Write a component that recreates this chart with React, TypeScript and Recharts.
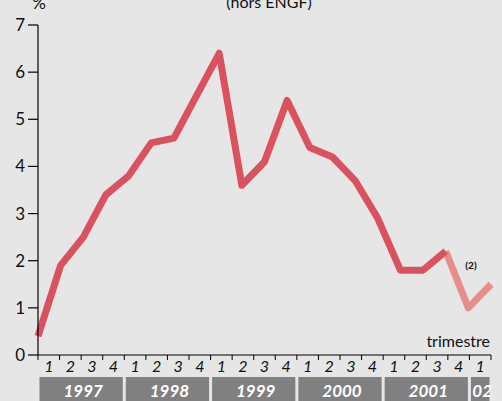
import { LineChart, Line, XAxis, YAxis } from 'recharts';

const YEARS = ['1997', '1998', '1999', '2000', '2001', '02'];
const QUARTERS_PER_YEAR = [4, 4, 4, 4, 4, 1];
const QUARTER_NAMES = ['1', '2', '3', '4'];
const GROWTH = [0.4, 1.9, 2.5, 3.4, 3.8, 4.5, 4.6, 5.5, 6.4, 3.6, 4.1, 5.4, 4.4, 4.2, 3.7, 2.9, 1.8, 1.8, 2.2, 1.0, 1.5];
const ESTIMATE_FROM = 18;
const Y_TICKS = [0, 1, 2, 3, 4, 5, 6, 7];

const FONT = 'Lato, "Open Sans", sans-serif';
const RED = '#d9525d';
const PINK = '#e88e8a';

const data = GROWTH.map((v, i) => ({
  i,
  actual: i <= ESTIMATE_FROM ? v : null,
  estimate: i >= ESTIMATE_FROM ? v : null,
}));

const QUARTER_LABELS = QUARTERS_PER_YEAR.flatMap((n) => QUARTER_NAMES.slice(0, n));
const N_QUARTERS = QUARTER_LABELS.length;
const BOUNDARY_TICKS = Array.from({ length: N_QUARTERS + 1 }, (_, k) => k);
const LABEL_TICKS = QUARTER_LABELS.map((_, k) => k + 0.5);

const yearStarts = QUARTERS_PER_YEAR.map((_, k) =>
  QUARTERS_PER_YEAR.slice(0, k).reduce((a, b) => a + b, 0)
);
const YEAR_TICKS = yearStarts.map((s, k) => s + QUARTERS_PER_YEAR[k] / 2);

function QuarterTick(props: any) {
  const { x, y, payload } = props;
  const v = payload.value as number;
  if (Number.isInteger(v)) {
    return <line x1={x} x2={x} y1={y} y2={y + 5} stroke="#000" strokeWidth={1} />;
  }
  return (
    <text
      x={x}
      y={y + 17}
      textAnchor="middle"
      fontFamily={FONT}
      fontStyle="italic"
      fontSize={16}
      fill="#111"
    >
      {QUARTER_LABELS[Math.floor(v)]}
    </text>
  );
}

function YearTick(props: any) {
  const { x, y, payload, index } = props;
  const axisW = props.width ?? 453;
  const qw = axisW / N_QUARTERS;
  const w = QUARTERS_PER_YEAR[index] * qw;
  return (
    <g>
      <rect x={x - w / 2 + 1.5} y={y} width={w - 3} height={24} fill="#808080" />
      <text
        x={x + 2}
        y={y + 20}
        textAnchor="middle"
        fontFamily={FONT}
        fontStyle="italic"
        fontWeight="bold"
        fontSize={17}
        fill="#fff"
      >
        {YEARS[index] ?? payload.value}
      </text>
    </g>
  );
}

export default function App() {
  return (
    <div
      style={{
        position: 'absolute',
        left: 0,
        top: 0,
        width: 502,
        height: 401,
        background: '#e6e6e6',
        overflow: 'hidden',
      }}
    >
      <LineChart width={502} height={401} data={data} margin={{ top: 25, right: 11, bottom: 0, left: 0 }}>
        <XAxis xAxisId="main" dataKey="i" type="number" domain={[0, GROWTH.length - 1]} height={0} hide />
        <XAxis
          xAxisId="q"
          dataKey="i"
          type="number"
          domain={[0, N_QUARTERS]}
          allowDataOverflow
          ticks={[...BOUNDARY_TICKS, ...LABEL_TICKS]}
          interval={0}
          height={22}
          tickSize={0}
          tickMargin={0}
          tickLine={false}
          axisLine={{ stroke: '#000', strokeWidth: 1.2 }}
          tick={QuarterTick}
        />
        <XAxis
          xAxisId="yr"
          dataKey="i"
          type="number"
          domain={[0, N_QUARTERS]}
          allowDataOverflow
          ticks={YEAR_TICKS}
          interval={0}
          height={24}
          tickSize={0}
          tickMargin={0}
          tickLine={false}
          axisLine={false}
          tick={YearTick}
        />
        <YAxis
          domain={[0, 7]}
          ticks={Y_TICKS}
          interval={0}
          width={38}
          tickSize={10}
          tickMargin={3}
          axisLine={{ stroke: '#000', strokeWidth: 1.2 }}
          tickLine={{ stroke: '#000', strokeWidth: 1.2 }}
          tick={{ fill: '#111', fontSize: 17, fontFamily: FONT }}
        />
        <Line
          xAxisId="main"
          dataKey="estimate"
          type="linear"
          stroke={PINK}
          strokeWidth={7}
          strokeLinejoin="round"
          dot={false}
          connectNulls={false}
          isAnimationActive={false}
        />
        <Line
          xAxisId="main"
          dataKey="actual"
          type="linear"
          stroke={RED}
          strokeWidth={7}
          strokeLinejoin="round"
          dot={false}
          connectNulls={false}
          isAnimationActive={false}
        />
      </LineChart>
      <svg
        width={502}
        height={401}
        style={{ position: 'absolute', left: 0, top: 0, pointerEvents: 'none' }}
      >
        <text x={39} y={9} textAnchor="middle" fontFamily={FONT} fontSize={17} fill="#111">
          %
        </text>
        <text x={269} y={8} textAnchor="middle" fontFamily={FONT} fontSize={16} fill="#111">
          (hors ENGF)
        </text>
        <text x={490} y={347} textAnchor="end" fontFamily={FONT} fontSize={16} fill="#111">
          trimestre
        </text>
        <text x={471} y={269} textAnchor="middle" fontFamily={FONT} fontWeight="bold" fontSize={10} fill="#111">
          (2)
        </text>
      </svg>
    </div>
  );
}
